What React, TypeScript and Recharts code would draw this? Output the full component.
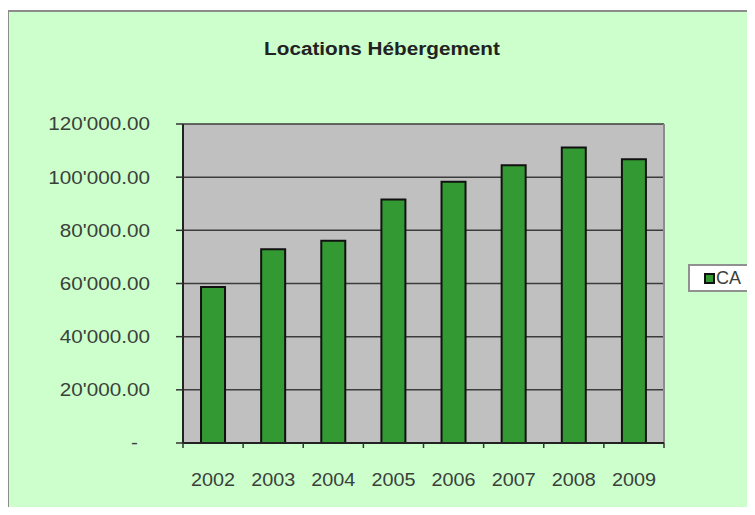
import React from 'react';
import { BarChart, Bar, XAxis, YAxis, CartesianGrid, Legend } from 'recharts';

// Chiffre d'affaires "Locations Hébergement" par année
const years = ['2002', '2003', '2004', '2005', '2006', '2007', '2008', '2009'];
const caValues = [58700, 72900, 76100, 91600, 98300, 104500, 111200, 106700];
const yTicks = [0, 20000, 40000, 60000, 80000, 100000, 120000];

const data = years.map((year, i) => ({ year, CA: caValues[i] }));

const FONT = '"Liberation Sans", Arial, sans-serif';
const TEXT_COLOR = '#3a413a';
// the original labels are a bit wider than plain Arial
const STRETCH = 1.15;

const formatCA = (v: number): string => {
    if (v === 0) return '-';
    const [int, dec] = v.toFixed(2).split('.');
    return int.replace(/\B(?=(\d{3})+(?!\d))/g, "'") + '.' + dec;
};

const YTick = (props: any) => {
    const { x, y, payload } = props;
    const isZero = payload.value === 0;
    return (
        <g transform={`translate(${x - (isZero ? 38 : 26)},${y}) scale(${STRETCH},1)`}>
            <text x={0} y={0} dy="0.36em" textAnchor="end" fontFamily={FONT} fontSize={18} fill={TEXT_COLOR}>
                {formatCA(payload.value)}
            </text>
        </g>
    );
};

const XTick = (props: any) => {
    const { x, y, payload, index, visibleTicksCount } = props;
    const half = payload.offset || 30;
    const isLast = index === visibleTicksCount - 1;
    return (
        <g>
            <line x1={x - half} x2={x - half} y1={y} y2={y + 5} stroke="#333" strokeWidth={1.5} />
            {isLast && <line x1={x + half} x2={x + half} y1={y} y2={y + 5} stroke="#333" strokeWidth={1.5} />}
            <g transform={`translate(${x},${y + 43}) scale(1.1,1)`}>
                <text x={0} y={0} textAnchor="middle" fontFamily={FONT} fontSize={18} fill={TEXT_COLOR}>
                    {payload.value}
                </text>
            </g>
        </g>
    );
};

const LegendBox = () => (
    <div
        style={{
            width: 62,
            height: 24,
            background: '#fff',
            border: '2px solid #909090',
            display: 'flex',
            alignItems: 'center',
            fontFamily: FONT,
            fontSize: 18,
            color: TEXT_COLOR,
        }}
    >
        <span
            style={{
                display: 'inline-block',
                width: 7,
                height: 7,
                background: '#339933',
                border: '2px solid #111',
                marginLeft: 14,
                marginRight: 1,
            }}
        />
        CA
    </div>
);

const App: React.FC = () => {
    return (
        <div style={{ position: 'relative', width: 755, height: 515, margin: -8, background: '#fff', overflow: 'hidden' }}>
            <div
                style={{
                    position: 'absolute',
                    left: 7,
                    top: 10,
                    width: 770,
                    height: 530,
                    background: '#ccffcc',
                    border: '2px solid #8c8c8c',
                }}
            />
            <div
                style={{
                    position: 'absolute',
                    left: 232,
                    top: 40,
                    width: 300,
                    lineHeight: '18px',
                    textAlign: 'center',
                    fontFamily: FONT,
                    fontWeight: 'bold',
                    fontSize: 18,
                    color: '#222',
                    whiteSpace: 'nowrap',
                    transform: `scaleX(${STRETCH})`,
                }}
            >
                Locations Hébergement
            </div>
            <div style={{ position: 'absolute', left: 0, top: 0 }}>
                <BarChart
                    width={755}
                    height={515}
                    data={data}
                    margin={{ top: 124, right: 25, bottom: 0, left: 0 }}
                    barCategoryGap="30%"
                >
                    <CartesianGrid vertical={false} fill="#c0c0c0" stroke="#3c3c3c" strokeWidth={1.5} />
                    <CartesianGrid
                        horizontal={false}
                        stroke="#8c8c8c"
                        strokeWidth={2}
                        verticalCoordinatesGenerator={({ offset }: any) => [offset.left + offset.width]}
                    />
                    <XAxis
                        dataKey="year"
                        height={72}
                        axisLine={{ stroke: '#222', strokeWidth: 2 }}
                        tickLine={false}
                        tickSize={0}
                        tickMargin={0}
                        tick={<XTick />}
                        interval={0}
                    />
                    <YAxis
                        width={183}
                        domain={[0, 120000]}
                        ticks={yTicks}
                        interval={0}
                        axisLine={{ stroke: '#222', strokeWidth: 2 }}
                        tickLine={{ stroke: '#333', strokeWidth: 1.5 }}
                        tickSize={7}
                        tickMargin={0}
                        tick={<YTick />}
                    />
                    <Legend
                        layout="vertical"
                        align="right"
                        verticalAlign="top"
                        content={<LegendBox />}
                        wrapperStyle={{ position: 'absolute', left: 688, top: 264, width: 66, height: 28 }}
                    />
                    <Bar
                        dataKey="CA"
                        fill="#339933"
                        stroke="#111"
                        strokeWidth={2}
                        isAnimationActive={false}
                    />
                </BarChart>
            </div>
        </div>
    );
};

export default App;
